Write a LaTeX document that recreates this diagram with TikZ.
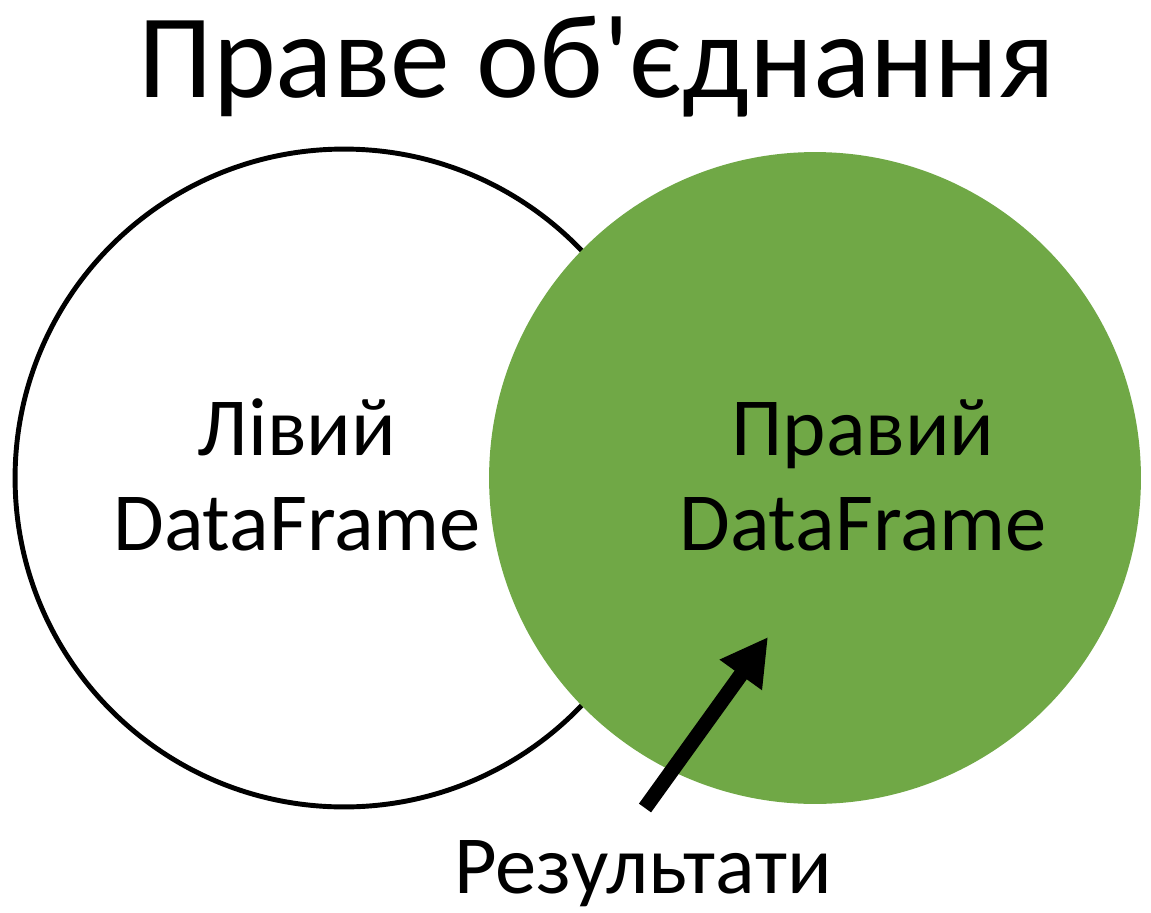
\documentclass[tikz,border=0pt]{standalone}
\usepackage{fontspec}
\setmainfont{Carlito}[Ligatures=TeXOff]
\usetikzlibrary{positioning, arrows.meta}
\definecolor{setgreen}{RGB}{112,168,70}

\begin{document}
\begin{tikzpicture}[
x=0.02cm, y=-0.02cm,
setline/.style={circle, draw=black, line width=2.8pt, minimum size=13.16cm, inner sep=0pt},
setfill/.style={circle, fill=setgreen, minimum size=13.04cm, inner sep=0pt},
dftext/.style={align=center, font=\fontsize{47}{54}\selectfont},
bigtitle/.style={font=\fontsize{68}{80}\selectfont, anchor=base},
resarrow/.style={line width=8.5pt, -{Triangle[length=26.6pt, width=27.8pt]}}
]
\useasboundingbox (0,0) rectangle (1151,912);
% Sets
\node[setline] (leftset) at (344,478) {};
\node[setfill] (rightset) at (815,478) {};
% Labels
\node[bigtitle] (title) at (597,98) {Праве об'єднання};
\node[dftext] (leftdf) at ([xshift=-0.94cm, yshift=0.06cm]leftset.center) {Лівий\\DataFrame};
\node[dftext] (rightdf) at ([xshift=0.96cm, yshift=0.06cm]rightset.center) {Правий\\DataFrame};
\node[dftext, anchor=base] (result) at (643,893) {Результати};
% Arrow
\coordinate (tail) at (645,808);
\coordinate (tip) at (768,637);
\draw[resarrow] (tail) -- (tip);
\end{tikzpicture}
\end{document}
